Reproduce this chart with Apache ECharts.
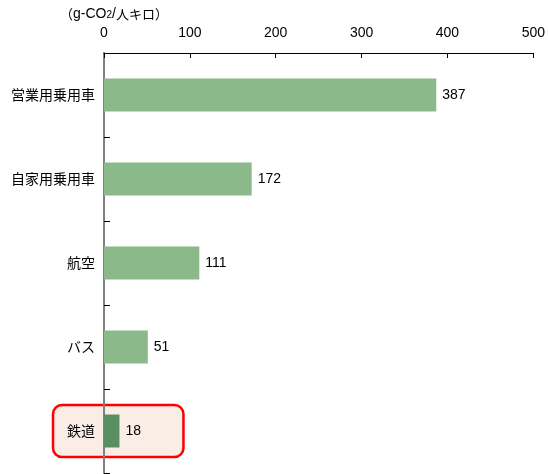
<!DOCTYPE html>
<html>
<head>
<meta charset="utf-8">
<script src="https://cdn.jsdelivr.net/npm/echarts@6/dist/echarts.min.js"></script>
<style>
  html, body { margin: 0; padding: 0; background: #fff; }
  #chart { width: 548px; height: 474px; }
</style>
</head>
<body>
<div id="chart"></div>
<script>
// CO2 emissions per passenger-km by transport mode
const categories = ['営業用乗用車', '自家用乗用車', '航空', 'バス', '鉄道'];
const values = [387, 172, 111, 51, 18];
const highlighted = '鉄道';

const NUM_FONT = 'Liberation Sans, Arial, sans-serif';
const JP_FONT = '"Noto Sans CJK JP", sans-serif';

const chart = echarts.init(document.getElementById('chart'));

const option = {
  animation: false,
  backgroundColor: '#ffffff',
  grid: { left: 104, right: 12, top: 53, bottom: 1, containLabel: false },
  xAxis: {
    type: 'value',
    position: 'top',
    min: 0,
    max: 500,
    interval: 100,
    axisLine: { show: true, lineStyle: { color: '#000', width: 1 } },
    axisTick: { show: true, inside: true, length: 5, lineStyle: { color: '#000' } },
    axisLabel: { color: '#000', fontSize: 14, fontFamily: NUM_FONT, margin: 13 },
    splitLine: { show: false }
  },
  yAxis: {
    type: 'category',
    inverse: true,
    data: categories,
    axisLine: { show: true, lineStyle: { color: '#808080', width: 2 } },
    axisTick: { show: true, inside: true, length: 6, lineStyle: { color: '#000' } },
    axisLabel: { color: '#000', fontSize: 14, fontFamily: JP_FONT, margin: 9 }
  },
  series: [{
    type: 'bar',
    barWidth: 33,
    data: values.map((v, i) => ({
      value: v,
      itemStyle: { color: categories[i] === highlighted ? '#5b8f5f' : '#8bb98a' }
    })),
    label: {
      show: true,
      position: 'right',
      distance: 6,
      color: '#000',
      fontSize: 14,
      fontFamily: NUM_FONT
    },
    z: 3
  }],
  graphic: [{
    type: 'text',
    left: 60,
    top: 7,
    style: {
      text: '（{lat|g-CO}{sub|2}{lat|/}人キロ）',
      fill: '#000',
      fontSize: 13,
      fontFamily: JP_FONT,
      rich: {
        lat: { fontSize: 14, fontFamily: NUM_FONT },
        sub: { fontSize: 10, fontFamily: NUM_FONT, padding: [3, 0, 0, 0] }
      }
    }
  }]
};

chart.setOption(option);

// Rounded frame behind the highlighted row, placed from the axis scales
const idx = categories.indexOf(highlighted);
const center = chart.convertToPixel({ gridIndex: 0 }, [0, idx]);
const valEnd = chart.convertToPixel({ gridIndex: 0 }, [values[idx], idx]);
chart.setOption({
  graphic: [{}, {
    type: 'rect',
    z: -1,
    silent: true,
    shape: {
      x: 53,
      y: center[1] - 26,
      width: valEnd[0] + 54 - 53 + 10,
      height: 52,
      r: 9
    },
    style: { fill: '#faede5', stroke: '#ff0000', lineWidth: 2.5 }
  }]
});
</script>
</body>
</html>
